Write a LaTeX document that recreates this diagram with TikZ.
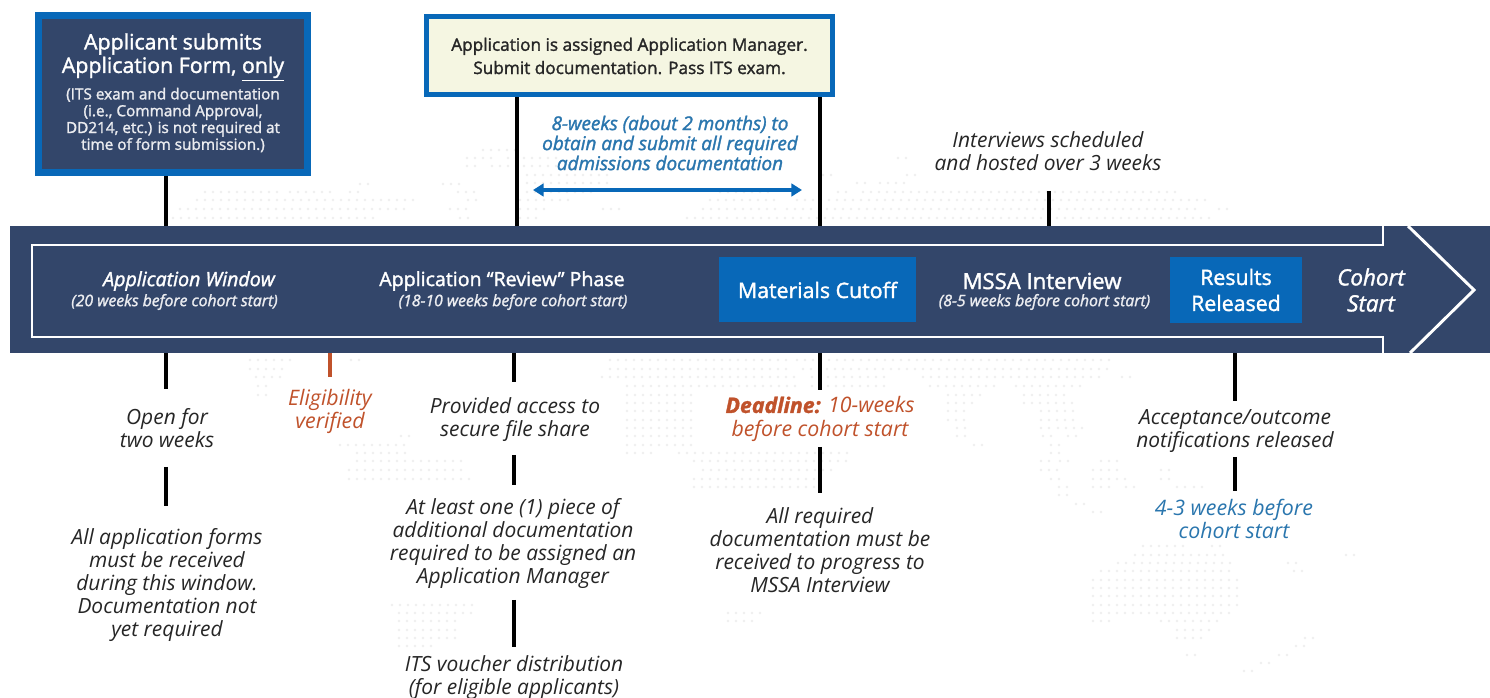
\documentclass[tikz,border=0pt]{standalone}
\usepackage{fontspec}
\setmainfont{Open Sans}
\newfontfamily\semi[FakeBold=1.6]{Open Sans}
\usetikzlibrary{arrows.meta}
\definecolor{navy}{HTML}{33466A}
\definecolor{bluebox}{HTML}{0868B8}
\definecolor{bluetxt}{HTML}{2A76AE}
\definecolor{rust}{HTML}{C0522B}
\definecolor{cream}{HTML}{F5F6E2}
\definecolor{dotc}{HTML}{EFEFEF}
\newcommand{\dotrow}[3]{\pgfmathsetmacro{\aa}{#2+8}\foreach \x in {#2,\aa,...,#3}{\fill[dotc] (\x,#1) circle (1.3);}}
\tikzset{
 every node/.style={inner sep=0pt,outer sep=0pt,align=center},
 conn/.style={line width=2.4pt,black},
 connrust/.style={line width=2.4pt,rust},
 body/.style={font=\fontsize{15.7}{17.4}\selectfont\itshape,text=black!85},
 rusttxt/.style={font=\fontsize{16}{17.4}\selectfont\itshape,text=rust},
 bluet/.style={font=\fontsize{16}{17.4}\selectfont\itshape,text=bluetxt},
 bandt/.style={font=\fontsize{14.7}{17.4}\selectfont\semi,text=white},
 bandi/.style={font=\fontsize{14.7}{17.4}\selectfont\itshape\semi,text=white},
 bands/.style={font=\fontsize{11.8}{13}\selectfont\itshape\semi,text=white!90!navy},
 milestone/.style={fill=bluebox,text=white,font=\fontsize{16}{19.5}\selectfont\semi},
}
\begin{document}
\begin{tikzpicture}[x=0.75pt,y=-0.75pt]
\useasboundingbox (0,0) rectangle (1490,698);
\fill[white] (0,0) rectangle (1490,698);
% faint dotted world map
\foreach \r/\a/\b in {184/360/370,184/443/465,192/205/278,192/290/330,192/350/365,192/458/480,200/197/413,200/468/480,209/180/405,209/450/472,218/165/380,218/460/460,
150/483/517,158/467/497,158/508/560,166/467/467,166/492/557,175/527/613,183/527/607,192/527/593,200/520/573,209/520/547,209/603/623,218/520/540,
192/720/770,200/710/777,200/797/1206,209/703/777,209/787/1198,218/687/727,218/737/1213,192/863/1179,192/838/852,183/857/869,183/880/911,158/898/911,175/823/834,175/907/907,209/1219/1219,
360/250/296,360/351/351,360/610/786,360/797/1114,369/250/288,369/610/793,369/803/1114,377/256/284,377/602/801,377/812/884,377/923/1104,377/1122/1122,386/258/258,386/627/801,386/812/884,386/930/995,386/1016/1087,
395/258/258,395/627/692,395/948/986,395/1024/1064,403/627/692,403/948/978,403/1024/1072,411/627/692,411/948/969,411/1041/1080,420/627/692,420/948/969,420/1041/1080,428/627/692,428/957/969,428/1041/1048,428/1058/1087,436/627/692,436/957/969,436/1043/1043,436/1068/1068,436/401/401,445/627/692,445/974/974,445/1051/1051,445/340/405,
453/627/658,453/679/850,453/357/405,453/1051/1062,461/694/850,461/357/464,461/1041/1041,461/1060/1060,461/1101/1122,470/703/835,470/349/464,470/1041/1062,470/1093/1122,470/1161/1161,479/694/820,479/349/474,479/1051/1062,479/1093/1129,479/1161/1161,487/694/816,487/1059/1070,487/1093/1114,487/1126/1137,487/1177/1177,487/1194/1206,495/1059/1070,504/1076/1076,512/1093/1104,
605/392/472,613/399/472,621/399/462,630/399/455,638/399/455,646/399/437,613/728/767,621/728/759,
546/1143/1189,546/1212/1223,555/1135/1223,555/1346/1346,563/1118/1231,563/1288/1288,571/1101/1231,571/1294/1294,580/1093/1240,588/1093/1240,596/1093/1240,605/1093/1240,613/1093/1231,621/1093/1112,621/1161/1161,621/1177/1223,630/1177/1213,638/1177/1206,638/1305/1305,646/1296/1296,655/1187/1187,655/1279/1279,663/1261/1271,671/1244/1254}
 {\dotrow{\r}{\a}{\b}}
% named points for connector ends
\coordinate (b1s) at (166,176);
\coordinate (bandt1) at (166,226);
\coordinate (b2l) at (517,97);
\coordinate (bandt2) at (517,226);
\coordinate (b2r) at (820,97);
\coordinate (bandt3) at (820,226);
\coordinate (iv) at (1049,191);
\coordinate (bandt4) at (1049,226);
\coordinate (a1) at (166,353);\coordinate (a2) at (166,389);
\coordinate (a3) at (166,467);\coordinate (a4) at (166,506);
\coordinate (e1) at (330,353);\coordinate (e2) at (330,377);
\coordinate (p1) at (514,353);\coordinate (p2) at (514,382);
\coordinate (p3) at (514,455);\coordinate (p4) at (514,485);
\coordinate (p5) at (514,600);\coordinate (p6) at (514,647);
\coordinate (d1) at (820,353);\coordinate (d2) at (820,390);
\coordinate (d3) at (820,447);\coordinate (d4) at (820,493);
\coordinate (r1) at (1235,353);\coordinate (r2) at (1235,401);
\coordinate (r3) at (1235,457);\coordinate (r4) at (1235,491);
\coordinate (arl) at (533,190);\coordinate (arr) at (802,190);
% connectors above/below
\draw[conn] (b1s)--(bandt1);
\draw[conn] (b2l)--(bandt2);
\draw[conn] (b2r)--(bandt3);
\draw[conn] (iv)--(bandt4);
\draw[conn] (a1)--(a2);
\draw[conn] (a3)--(a4);
\draw[connrust] (e1)--(e2);
\draw[conn] (p1)--(p2);
\draw[conn] (p3)--(p4);
\draw[conn] (p5)--(p6);
\draw[conn] (d1)--(d2);
\draw[conn] (d3)--(d4);
\draw[conn] (r1)--(r2);
\draw[conn] (r3)--(r4);
\draw[line width=2.6pt,bluebox,{Triangle[length=8pt,width=9.5pt]}-{Triangle[length=8pt,width=9.5pt]}] (arl)--(arr);
% band
\node[fill=navy,minimum width=1480*0.75pt,minimum height=127*0.75pt] (band) at (750,289.5) {};
\draw[white,line width=2.2pt] (1383,226)--(1383,245)--(32,245)--(32,337)--(1383,337)--(1383,353);
\draw[white,line width=2.2pt] (1408,226)--(1474,290)--(1410,353);
% top boxes
\node[draw=bluebox,line width=5.25pt,fill=navy,minimum width=269*0.75pt,minimum height=157*0.75pt] (box1) at (173,94) {};
\node[text=white,font=\fontsize{16}{17.6}\selectfont\semi] (box1t) at (173,57) {Applicant submits\\Application Form, \underline{only}};
\node[text=white!90!navy,font=\fontsize{11.5}{12.6}\selectfont\semi] (box1n) at (173,120) {(ITS exam and documentation\\(i.e., Command Approval,\\DD214, etc.) is not required at\\time of form submission.)};
\node[draw=bluebox,line width=3.75pt,fill=cream,minimum width=406*0.75pt,minimum height=78*0.75pt,text=black!85,font=\fontsize{12.9}{17.4}\selectfont\semi] (box2) at (629.5,56) {Application is assigned Application Manager.\\Submit documentation. Pass ITS exam.};
% text above band
\node[bluet,font=\fontsize{14.2}{15}\selectfont\itshape\semi] (eight) at (670,143) {8-weeks (about 2 months) to\\obtain and submit all required\\admissions documentation};
\node[body] (interv) at (1048,151) {Interviews scheduled\\and hosted over 3 weeks};
% band contents
\node[bandi] (win) at (189,281) {Application Window};
\node[bands] (wins) at (174.5,302) {(20 weeks before cohort start)};
\node[bandt] (rev) at (502,281) {Application “Review” Phase};
\node[bands] (revs) at (513,302) {(18-10 weeks before cohort start)};
\node[milestone,minimum width=197*0.75pt,minimum height=65*0.75pt] (mat) at (817.5,290) {Materials Cutoff};
\node[bandt,font=\fontsize{16.6}{17.4}\selectfont\semi] (mssa) at (1042,281) {MSSA Interview};
\node[bands] (mssas) at (1044.5,302) {(8-5 weeks before cohort start)};
\node[milestone,minimum width=132*0.75pt,minimum height=66*0.75pt] (res) at (1236,290) {Results\\Released};
\node[bandi,font=\fontsize{16.8}{19.5}\selectfont\itshape\semi] (coh) at (1371,290) {Cohort\\Start};
% text below band
\node[body] (open) at (167,428) {Open for\\two weeks};
\node[body] (allf) at (167,585) {All application forms\\must be received\\during this window.\\Documentation not\\yet required};
\node[rusttxt] (elig) at (330,411.5) {Eligibility\\verified};
\node[body] (prov) at (515,419.5) {Provided access to\\secure file share};
\node[body] (least) at (513,543.5) {At least one (1) piece of\\additional documentation\\required to be assigned an\\Application Manager};
\node[body] (its) at (514,677.5) {ITS voucher distribution\\(for eligible applicants)};
\node[rusttxt] (dead) at (820,419) {{\semi\textbf{Deadline:}} 10-weeks\\before cohort start};
\node[body] (allr) at (820,550) {All required\\documentation must be\\received to progress to\\MSSA Interview};
\node[body] (acc) at (1235,431) {Acceptance/outcome\\notifications released};
\node[bluet] (four) at (1234,519) {4-3 weeks before\\cohort start};
\end{tikzpicture}
\end{document}
